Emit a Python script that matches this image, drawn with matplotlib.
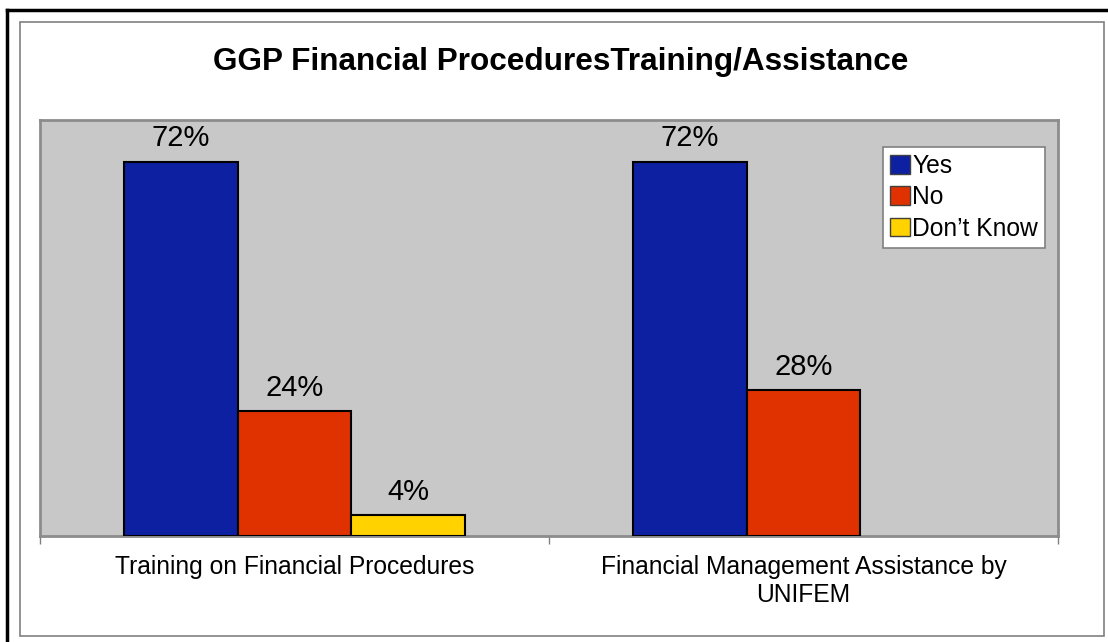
import matplotlib.pyplot as plt
from matplotlib.patches import Rectangle
from matplotlib.lines import Line2D
import numpy as np

# Chart data
categories = ["Training on Financial Procedures",
              "Financial Management Assistance by\nUNIFEM"]
series_names = ["Yes", "No", "Don\u2019t Know"]
yes_values = [72, 72]
no_values = [24, 28]
dont_know_values = [4, 0]

colors = ["#0E20A2", "#E03200", "#FFD200"]


def main():
    plt.rcParams['font.family'] = ['Liberation Sans', 'DejaVu Sans']

    fig = plt.figure(figsize=(11.08, 6.42), dpi=100)
    W, H = 1108, 642

    # outer page frame
    fig.add_artist(Line2D([7 / W, 1.0], [1 - 10 / H, 1 - 10 / H], color="black", lw=2.5,
                          transform=fig.transFigure))
    fig.add_artist(Line2D([7 / W, 7 / W], [1 - 10 / H, 0.0], color="black", lw=2.5,
                          transform=fig.transFigure))
    # chart frame
    fig.add_artist(Rectangle((20 / W, 1 - 636 / H), (1104 - 20) / W, (636 - 22) / H,
                             fill=False, edgecolor="#808080", lw=1.2,
                             transform=fig.transFigure))

    ax = fig.add_axes([40 / W, 1 - 536 / H, (1058 - 40) / W, (536 - 120) / H])
    ax.set_facecolor("#C8C8C8")

    x = np.arange(len(categories))
    width = 0.223
    all_series = [yes_values, no_values, dont_know_values]
    for i, (name, vals) in enumerate(zip(series_names, all_series)):
        pos = x + (i - 1) * width
        bars = ax.bar(pos, vals, width, color=colors[i], edgecolor="black",
                      linewidth=1.5, label=name, zorder=3)
        for b, v in zip(bars, vals):
            if v > 0:
                ax.text(b.get_x() + b.get_width() / 2, v + 1.8, f"{v}%",
                        ha="center", va="bottom", fontsize=21)
            else:
                b.set_linewidth(0)

    ax.set_xlim(-0.5, 1.5)
    ax.set_ylim(0, 80)
    ax.set_yticks([])
    ax.set_xticks(x)
    ax.set_xticklabels(categories, fontsize=17.7)
    ax.tick_params(axis="x", which="major", length=0, pad=14)
    ax.set_xticks([-0.5, 0.5, 1.5], minor=True)
    ax.tick_params(axis="x", which="minor", length=6, width=1, color="#808080")

    for s in ax.spines.values():
        s.set_color("#8C8C8C")
        s.set_linewidth(2)

    leg = ax.legend(loc="upper right",
                    bbox_to_anchor=((1045 - 40) / (1058 - 40), (536 - 147) / (536 - 120)),
                    bbox_transform=ax.transAxes,
                    fontsize=17.7, frameon=True, fancybox=False, framealpha=1,
                    handlelength=0.8, handleheight=0.8, handletextpad=0.1,
                    labelspacing=0.3, borderpad=0.28, borderaxespad=0)
    leg.get_frame().set_facecolor("white")
    leg.get_frame().set_edgecolor("#808080")
    leg.get_frame().set_linewidth(1.2)
    for h in leg.legend_handles:
        h.set_edgecolor("#404040")
        h.set_linewidth(1)

    fig.text(561 / W, 1 - 62 / H, "GGP Financial ProceduresTraining/Assistance",
             ha="center", va="center", fontsize=22.7, fontweight="bold")

    fig.savefig("out.png", dpi=100)


if __name__ == '__main__':
    main()
